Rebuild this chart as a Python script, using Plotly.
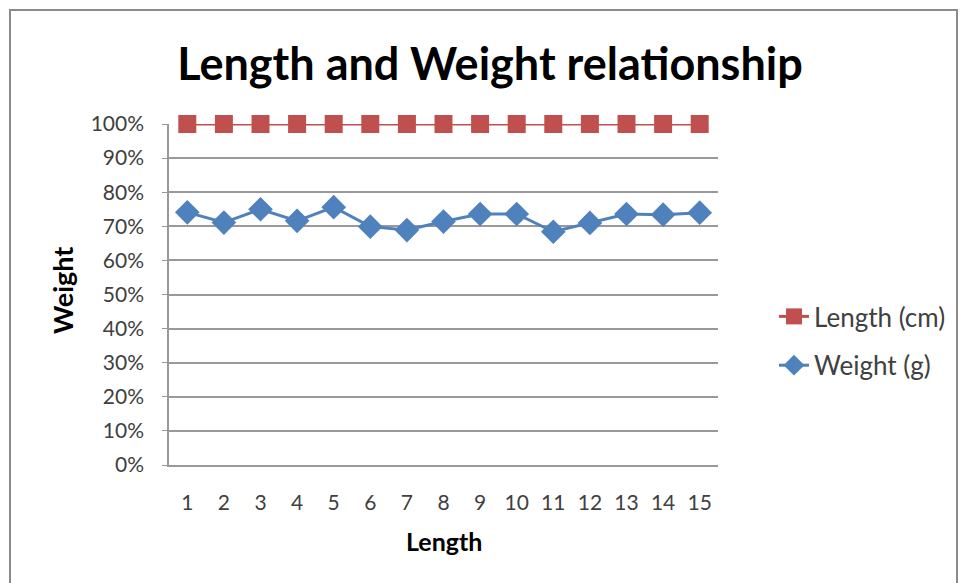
import plotly.graph_objects as go

# Sample index along the x axis
lengths = list(range(1, 16))
# Series values (fraction of 100%)
length_cm = [1.0] * 15
weight_g = [0.741, 0.711, 0.750, 0.716, 0.756, 0.699, 0.689, 0.714,
            0.736, 0.736, 0.684, 0.710, 0.736, 0.734, 0.740]
y_ticks = [i / 10 for i in range(11)]

RED = "#C0504D"
BLUE = "#4F81BD"
GRID = "#999999"
FONT = "Lato, 'Open Sans', sans-serif"

fig = go.Figure()
fig.add_trace(go.Scatter(
    x=lengths, y=length_cm, name="Length (cm)", mode="lines+markers",
    line=dict(color=RED, width=3),
    marker=dict(symbol="square", size=18, color=RED),
    cliponaxis=False, legendgroup="a",
))
fig.add_trace(go.Scatter(
    x=lengths, y=weight_g, name="Weight (g)", mode="lines+markers",
    line=dict(color=BLUE, width=3),
    marker=dict(symbol="diamond", size=19, color=BLUE),
    cliponaxis=False, legendgroup="b",
))

W, H = 960, 583
L, R, T, B = 169, 242, 124, 118
pw, ph = W - L - R, H - T - B

def px_x(x):
    return (x - L) / pw

def px_y(y):
    return (H - B - y) / ph

fig.update_layout(
    width=W, height=H,
    margin=dict(l=L, r=R, t=T, b=B, autoexpand=False),
    paper_bgcolor="white", plot_bgcolor="white",
    font=dict(family=FONT, size=21, color="#404040"),
    title=dict(text="<b>Length and Weight relationship</b>",
               x=490 / W, xanchor="center", y=1 - 64 / H, yanchor="middle",
               font=dict(family=FONT, size=45, color="black")),
    showlegend=True,
    legend=dict(x=px_x(774), xanchor="left", y=px_y(293), yanchor="top",
                font=dict(size=26, color="#404040"), tracegroupgap=12,
                bgcolor="rgba(0,0,0,0)"),
    xaxis=dict(range=[0.5, 15.5], tickmode="array", tickvals=lengths,
               ticktext=[str(v) for v in lengths],
               showgrid=False, showline=True, linecolor=GRID, linewidth=1.5,
               zeroline=False, ticks="", ticklabelstandoff=18,
               tickfont=dict(size=21, color="#404040")),
    yaxis=dict(range=[0, 1], tickmode="array", tickvals=y_ticks,
               tickformat=".0%", showgrid=True, gridcolor=GRID, gridwidth=1.5,
               showline=True, linecolor=GRID, linewidth=1.5, zeroline=False,
               ticks="outside", ticklen=5, tickcolor=GRID,
               ticklabelstandoff=14,
               tickfont=dict(size=21, color="#404040")),
    annotations=[
        dict(text="<b>Weight</b>", xref="paper", yref="paper",
             x=px_x(62), y=px_y(291), xanchor="center", yanchor="middle",
             textangle=-90, showarrow=False,
             font=dict(size=27, color="black")),
        dict(text="<b>Length</b>", xref="paper", yref="paper",
             x=px_x(444), y=px_y(541), xanchor="center", yanchor="middle",
             showarrow=False, font=dict(size=25, color="black")),
    ],
    shapes=[
        dict(type="rect", xref="paper", yref="paper",
             x0=px_x(10), x1=px_x(957), y0=px_y(600), y1=px_y(10),
             line=dict(color="#8A8A8A", width=2)),
    ],
)

fig.write_html("out.html")
